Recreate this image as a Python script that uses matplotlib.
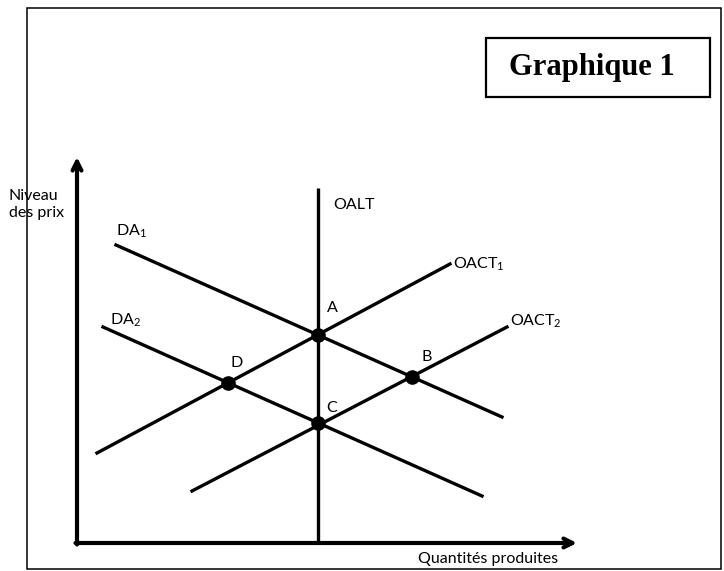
import numpy as np
import matplotlib.pyplot as plt
from matplotlib.patches import Rectangle

# schéma offre / demande agrégées : (quantité, niveau des prix)
da1_q = [39, 425]
da1_p = [298, 126]
da2_q = [26, 405]
da2_p = [216, 47]
oact1_q = [20, 373]
oact1_p = [90, 279]
oact2_q = [115, 430]
oact2_p = [52, 216]
oalt_q = 241
oalt_p = [0, 355]
axis_q_max = 500
axis_p_max = 386

label_font = "Lato"
plt.rcParams["mathtext.fontset"] = "custom"
plt.rcParams["mathtext.rm"] = label_font
plt.rcParams["mathtext.it"] = label_font


def at_q(q, p, x):
    # prix sur le segment (q, p) pour la quantité x
    slope = (p[1] - p[0]) / (q[1] - q[0])
    return p[0] + slope * (x - q[0])


def intersect(q1, p1, q2, p2):
    s1 = (p1[1] - p1[0]) / (q1[1] - q1[0])
    s2 = (p2[1] - p2[0]) / (q2[1] - q2[0])
    x = (p2[0] - p1[0] + s1 * q1[0] - s2 * q2[0]) / (s1 - s2)
    return x, at_q(q1, p1, x)


pt_a = (oalt_q, at_q(da1_q, da1_p, oalt_q))
pt_c = (oalt_q, at_q(da2_q, da2_p, oalt_q))
pt_b = intersect(da1_q, da1_p, oact2_q, oact2_p)
pt_d = intersect(da2_q, da2_p, oact1_q, oact1_p)

fig = plt.figure(figsize=(7.24, 5.71), dpi=100)
ax = fig.add_axes([0, 0, 1, 1])
ax.set_xlim(-77, 647)
ax.set_ylim(-28, 543)
ax.axis("off")

# cadre extérieur
ax.add_patch(Rectangle((-50, -26), 694, 561, fill=False, lw=1.1, ec="black"))

# encadré du titre
ax.add_patch(Rectangle((409, 446), 224, 59, fill=False, lw=1.6, ec="black"))
ax.text(515, 475.5, "Graphique 1", ha="center", va="center",
        fontsize=22, fontweight="bold", family="Liberation Serif")

# axes avec flèches
arrow = dict(arrowstyle="->", lw=3, color="black", mutation_scale=16,
             shrinkA=0, shrinkB=0)
ax.annotate("", xy=(0, axis_p_max), xytext=(0, -1.5), arrowprops=arrow)
ax.annotate("", xy=(axis_q_max, 0), xytext=(-1.5, 0), arrowprops=arrow)

lw = 2.4
ax.plot([oalt_q, oalt_q], oalt_p, color="black", lw=lw, solid_capstyle="butt")
ax.plot(da1_q, da1_p, color="black", lw=lw)
ax.plot(da2_q, da2_p, color="black", lw=lw)
ax.plot(oact1_q, oact1_p, color="black", lw=lw)
ax.plot(oact2_q, oact2_p, color="black", lw=lw)

pts = [pt_a, pt_b, pt_c, pt_d]
ax.plot([p[0] for p in pts], [p[1] for p in pts], "o", color="black",
        markersize=9.5, zorder=5)

fs = 11.5


def label(txt, xy, dx, dy, ha="center", va="center"):
    ax.annotate(txt, xy=xy, xytext=(dx, dy), textcoords="offset pixels",
                ha=ha, va=va, fontsize=fs, family=label_font)


label("A", pt_a, 14, 27)
label("B", pt_b, 15, 20)
label("C", pt_c, 14, 15)
label("D", pt_d, 9, 20)

label("OALT", (oalt_q, oalt_p[1]), 15, -17, ha="left")
label(r"OACT$_{1}$", (oact1_q[1], oact1_p[1]), 3, 0, ha="left")
label(r"OACT$_{2}$", (oact2_q[1], oact2_p[1]), 3, 6, ha="left")
label(r"DA$_{1}$", (da1_q[0], da1_p[0]), 0, 14, ha="left")
label(r"DA$_{2}$", (da2_q[0], da2_p[0]), 7, 7, ha="left")

ax.text(-68, 338.5, "Niveau\ndes prix", ha="left", va="center",
        fontsize=fs, family=label_font, linespacing=1.35)
ax.text(481, -16, "Quantités produites", ha="right", va="center",
        fontsize=fs, family=label_font)

fig.savefig("out.png", dpi=100)
